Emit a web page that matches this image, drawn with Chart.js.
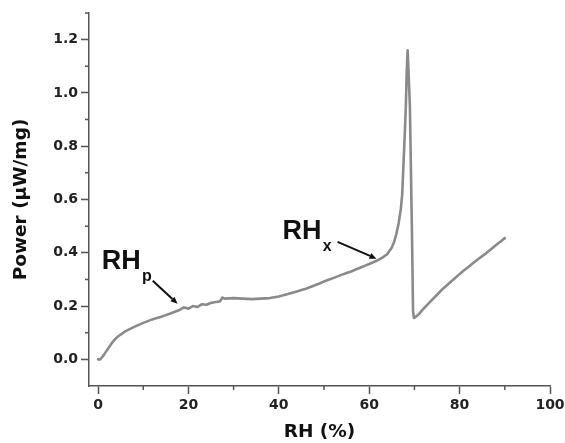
<!DOCTYPE html>
<html><head><meta charset="utf-8">
<script src="https://cdn.jsdelivr.net/npm/chart.js@4/dist/chart.umd.min.js"></script>
<style>html,body{margin:0;padding:0;background:#fff}</style>
</head><body>
<canvas id="c" width="565" height="443"></canvas>
<script>
// ---- data ----
const rhValues = [0, 0.5, 1, 2, 3, 4, 5, 6, 8, 10, 12, 14, 16, 18, 19, 20, 21, 22, 23, 24, 25, 26, 27, 27.5, 28, 30, 32, 34, 36, 38, 40, 42, 44, 46, 48, 50, 52, 54, 56, 58, 60, 62, 63, 64, 65, 65.5, 66, 66.5, 67, 67.3, 67.6, 67.9, 68.1, 68.3, 68.5, 68.7, 69.0, 69.2, 69.5, 69.7, 69.9, 70.3, 71, 72, 74, 76, 78, 80, 82, 84, 86, 88, 90];
const powerValues = [0, 0.0, 0.01, 0.035, 0.06, 0.08, 0.093, 0.105, 0.122, 0.137, 0.15, 0.16, 0.172, 0.185, 0.195, 0.19, 0.2, 0.197, 0.207, 0.205, 0.212, 0.215, 0.218, 0.232, 0.228, 0.23, 0.228, 0.226, 0.228, 0.23, 0.236, 0.245, 0.255, 0.265, 0.278, 0.292, 0.305, 0.318, 0.33, 0.344, 0.358, 0.373, 0.383, 0.395, 0.42, 0.44, 0.47, 0.51, 0.565, 0.62, 0.74, 0.86, 0.95, 1.08, 1.16, 1.08, 0.95, 0.74, 0.43, 0.18, 0.155, 0.16, 0.17, 0.19, 0.225, 0.26, 0.29, 0.32, 0.348, 0.375, 0.4, 0.428, 0.455];
const xMajorTicks = [0, 20, 40, 60, 80, 100];
const xMinorTicks = [10, 30, 50, 70, 90];
const yMajorTicks = [0.0, 0.2, 0.4, 0.6, 0.8, 1.0, 1.2];
const yMinorTicks = [0.1, 0.3, 0.5, 0.7, 0.9, 1.1, 1.3];
const xTitle = 'RH (%)';
const yTitle = 'Power (\u00B5W/mg)';

const points = rhValues.map((v, i) => ({x: v, y: powerValues[i]}));
const AXIS = '#555';
const isMajorX = v => xMajorTicks.some(t => Math.abs(t - v) < 1e-6);
const isMajorY = v => yMajorTicks.some(t => Math.abs(t - v) < 1e-6);

// annotation anchors in data space
const notes = [
  {text: 'RH', sub: 'p', at: [0.8, 0.34], subAt: [9.7, 0.295], from: [12.1, 0.295], to: [17.6, 0.209]},
  {text: 'RH', sub: 'x', at: [40.8, 0.452], subAt: [49.7, 0.407], from: [53.0, 0.441], to: [61.6, 0.378]}
];

const extras = {
  id: 'extras',
  afterDraw(chart) {
    const {ctx, scales: {x, y}} = chart;
    ctx.save();
    ctx.strokeStyle = AXIS; ctx.lineWidth = 1.5;
    ctx.beginPath();
    xMinorTicks.forEach(v => { const p = x.getPixelForValue(v); ctx.moveTo(p, x.top); ctx.lineTo(p, x.top + 4); });
    yMinorTicks.forEach(v => { const p = y.getPixelForValue(v); ctx.moveTo(y.right, p); ctx.lineTo(y.right - 4, p); });
    ctx.stroke();
    ctx.fillStyle = '#111'; ctx.strokeStyle = '#111';
    notes.forEach(n => {
      ctx.font = 'bold 27px "Liberation Sans", Arial, sans-serif';
      ctx.textBaseline = 'alphabetic'; ctx.textAlign = 'left';
      ctx.fillText(n.text, x.getPixelForValue(n.at[0]), y.getPixelForValue(n.at[1]));
      ctx.font = 'bold 16px "Liberation Sans", Arial, sans-serif';
      ctx.fillText(n.sub, x.getPixelForValue(n.subAt[0]), y.getPixelForValue(n.subAt[1]));
      const x0 = x.getPixelForValue(n.from[0]), y0 = y.getPixelForValue(n.from[1]);
      const x1 = x.getPixelForValue(n.to[0]), y1 = y.getPixelForValue(n.to[1]);
      const ang = Math.atan2(y1 - y0, x1 - x0);
      const hl = 7, hw = 3;
      ctx.lineWidth = 2;
      ctx.beginPath();
      ctx.moveTo(x0, y0);
      ctx.lineTo(x1 - hl * Math.cos(ang), y1 - hl * Math.sin(ang));
      ctx.stroke();
      ctx.beginPath();
      ctx.moveTo(x1, y1);
      ctx.lineTo(x1 - hl * Math.cos(ang) + hw * Math.sin(ang), y1 - hl * Math.sin(ang) - hw * Math.cos(ang));
      ctx.lineTo(x1 - hl * Math.cos(ang) - hw * Math.sin(ang), y1 - hl * Math.sin(ang) + hw * Math.cos(ang));
      ctx.closePath();
      ctx.fill();
    });
    ctx.restore();
  }
};

const tickFont = {family: '"DejaVu Sans", sans-serif', size: 14, weight: 'bold'};
const titleFont = {family: '"DejaVu Sans", sans-serif', size: 18.5, weight: 'bold', lineHeight: 1.2};

new Chart(document.getElementById('c'), {
  type: 'line',
  data: {datasets: [{data: points, borderColor: '#8a8a8a', borderWidth: 2.6, pointRadius: 0, tension: 0.0001, fill: false, borderJoinStyle: 'round', borderCapStyle: 'round'}]},
  options: {
    responsive: false, animation: false, devicePixelRatio: 1,
    layout: {padding: {top: 13, right: 15, left: 0, bottom: 0}},
    plugins: {legend: {display: false}, tooltip: {enabled: false}},
    scales: {
      x: {
        type: 'linear', min: -2, max: 100,
        afterFit: s => { s.height = 57; s.paddingLeft = 0; s.paddingRight = 0; },
        border: {display: true, color: AXIS, width: 1.5},
        grid: {drawOnChartArea: false, drawTicks: true, tickLength: 8, tickWidth: 1.5,
               tickColor: c => isMajorX(c.tick.value) ? AXIS : 'rgba(0,0,0,0)'},
        ticks: {stepSize: 10, includeBounds: false, autoSkip: false, maxRotation: 0, color: '#222', font: tickFont, padding: 3,
                callback: v => isMajorX(v) ? String(Math.round(v)) : ''},
        title: {display: true, text: xTitle, color: '#111', font: titleFont, padding: {top: 0, bottom: 0}}
      },
      y: {
        type: 'linear', min: -0.1, max: 1.3,
        afterFit: s => { s.width = 89; s.paddingTop = 0; s.paddingBottom = 0; },
        border: {display: true, color: AXIS, width: 1.5},
        grid: {drawOnChartArea: false, drawTicks: true, tickLength: 8, tickWidth: 1.5,
               tickColor: c => isMajorY(c.tick.value) ? AXIS : 'rgba(0,0,0,0)'},
        ticks: {stepSize: 0.1, includeBounds: false, autoSkip: false, color: '#222', font: tickFont, padding: 3,
                callback: v => isMajorY(v) ? v.toFixed(1) : ''},
        title: {display: true, text: yTitle, color: '#111', font: titleFont, padding: {top: 10, bottom: 0}}
      }
    }
  },
  plugins: [extras]
});
</script>
</body></html>
